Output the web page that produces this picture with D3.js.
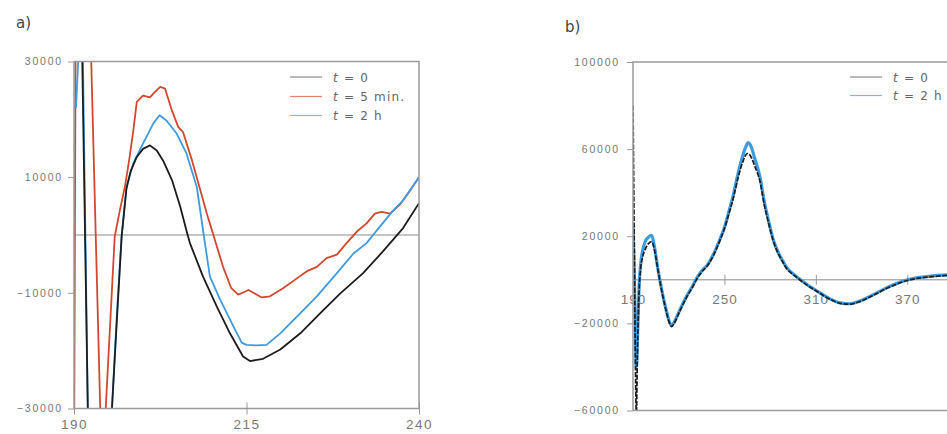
<!DOCTYPE html>
<html lang="en">

<head>
    <meta charset="UTF-8">
    <title>CD spectra a) b)</title>
    <script src="https://cdn.jsdelivr.net/npm/d3@7"></script>
    <style>
        body {
            margin: 0;
            background: #fff;
        }

        svg {
            display: block;
            font-family: "DejaVu Sans", sans-serif;
        }

        .line {
            fill: none;
            stroke-linejoin: round;
        }

        .tick text {
            fill: #777;
        }
    </style>
</head>

<body>
    <script>
        // ---- panel a) : t = 0, t = 5 min., t = 2 h  (nm, value)
        const aTicksX = [190, 215, 240]
        const aTicksY = [-30000, -10000, 10000, 30000]

        const aBlack = [
            [190.5, 45000], [191.2, 30000], [192.0, -30000], [192.5, -45000], [193.5, -50000],
            [195.0, -38000], [195.5, -30000], [196.2, -15000], [196.9, -300], [197.6, 8000],
            [198.2, 11000], [199.1, 13500], [200.0, 14900], [201.0, 15500], [202.0, 14600],
            [202.9, 12900], [204.2, 9500], [205.4, 4900], [206.4, 300], [206.8, -1400],
            [208.7, -7200], [210.7, -12400], [212.6, -17000], [214.5, -21000], [215.5, -21800],
            [217.4, -21400], [219.9, -19800], [222.8, -17000], [225.7, -13500], [228.6, -10100],
            [231.9, -6600], [234.8, -2800], [237.7, 1200], [240.0, 5500]
        ]

        const aRed = [
            [190.0, -45000], [190.25, 40000], [191.2, 60000], [192.5, 30000], [193.8, -30000],
            [194.2, -38000], [194.6, -30000], [195.3, -14000], [195.9, -300], [196.6, 4000],
            [197.4, 8500], [198.0, 13000], [198.6, 18100], [199.1, 23000], [200.0, 24100],
            [201.0, 23800], [201.7, 24700], [202.5, 25600], [203.2, 25300], [204.2, 21500],
            [205.1, 18700], [205.8, 17800], [207.1, 12900], [208.3, 7800], [209.3, 3500],
            [210.2, 0], [211.6, -5500], [212.8, -9200], [213.8, -10300], [214.6, -9900],
            [215.3, -9500], [216.2, -10100], [217.2, -10800], [218.4, -10600], [220.3, -9200],
            [222.3, -7500], [223.7, -6300], [225.2, -5500], [226.6, -4000], [228.1, -3400],
            [229.5, -1400], [231.0, 600], [232.4, 2000], [233.6, 3700], [234.6, 4000],
            [235.8, 3700], [237.2, 5200], [238.6, 7500], [240.0, 10000]
        ]

        const aBlue = [
            [190.3, 22000], [190.9, 38000], [191.3, 30000], [192.0, -30000], [192.6, -50000],
            [194.0, -50000], [195.5, -30000], [196.2, -14000], [196.9, -300], [197.6, 8300],
            [198.6, 12400], [200.0, 15800], [201.5, 19300], [202.4, 20700], [203.4, 19800],
            [204.9, 17500], [206.3, 14100], [207.8, 8300], [208.8, 0], [209.7, -7200],
            [211.2, -11200], [213.1, -15800], [214.3, -18600], [215.0, -19000], [216.5, -19100],
            [217.9, -19000], [219.9, -17000], [222.3, -14100], [225.2, -10600], [228.1, -6600],
            [230.5, -3200], [232.4, -1400], [234.3, 1400], [236.3, 4300], [237.7, 6000],
            [240.0, 10000]
        ]

        // ---- panel b) : t = 0, t = 2 h
        const bTicksX = [190, 250, 310, 370]
        const bTicksY = [-60000, -20000, 20000, 60000, 100000]

        const bBlack = [
            [190, 80000], [190.8, 20000], [191.6, -40000], [192.2, -62000], [193, -30000],
            [194, -5000], [195, 5000], [196.5, 11000], [198, 14000], [200, 16500],
            [202.3, 17500], [204, 14000], [206, 6000], [208, -2000], [210, -9000],
            [212, -15000], [214, -20000], [215.4, -21500], [217, -20000], [220, -15500],
            [223, -11000], [226, -7000], [229, -3500], [231.6, 0], [235, 3500],
            [239, 6600], [243, 11500], [247, 18000], [250, 23500], [253, 30500],
            [256, 38000], [259, 47000], [262, 54000], [265, 58000], [267, 57000],
            [270, 52000], [273.4, 45000], [276, 35000], [279, 26000], [282, 18000],
            [285, 12500], [288, 8500], [291, 5000], [295, 2500], [300, -300],
            [305, -2800], [310, -5000], [315, -7200], [320, -9200], [326, -10800],
            [332, -11200], [338, -10200], [343, -8700], [350, -6300], [356, -4100],
            [363, -2000], [370, -300], [376, 600], [383, 1200], [390, 1700],
            [396, 2000], [400, 2100]
        ]

        const bBlue = [
            [190, 25000], [190.8, 5000], [191.6, -25000], [192.2, -40000], [193, -26000],
            [194, -3000], [195, 7000], [196.5, 14000], [198, 17500], [200, 19500],
            [202.3, 20400], [204, 15500], [206, 6500], [208, -1500], [210, -8500],
            [212, -14500], [214, -19500], [215.4, -21000], [217, -19500], [220, -15000],
            [223, -10500], [226, -6500], [229, -3000], [231.6, 500], [235, 4000],
            [239, 7000], [243, 12000], [247, 18500], [250, 24000], [253, 31500],
            [256, 39500], [259, 49000], [262, 57000], [264, 61000], [265.6, 63000],
            [267, 62000], [270, 55500], [273.4, 47000], [276, 36500], [279, 27000],
            [282, 18500], [285, 13000], [288, 9000], [291, 5500], [295, 2800],
            [300, 0], [305, -2600], [310, -4800], [315, -7000], [320, -9000],
            [326, -10600], [332, -11000], [338, -10000], [343, -8500], [350, -6000],
            [356, -3800], [363, -1700], [370, 0], [376, 900], [383, 1500],
            [390, 2000], [396, 2300], [400, 2400]
        ]

        const width = 947
        const height = 434

        const svg = d3.select("body")
            .append("svg")
            .attr("width", width)
            .attr("height", height)

        const frameColor = "#9a9a9a"
        const black = "#1c1c1c"
        const red = "#d2472e"
        const blue = "#3f9be0"
        const fmt = d3.format("d")

        function legendRow(g, x, y, color, pre, post) {
            g.append("line")
                .attr("x1", x).attr("x2", x + 32)
                .attr("y1", y).attr("y2", y)
                .attr("stroke", color)
                .attr("stroke-width", 1.2)
            const t = g.append("text")
                .attr("x", x + 43).attr("y", y + 4.5)
                .style("font-size", "12px")
                .style("letter-spacing", "1.2px")
                .attr("fill", "#666")
            t.append("tspan").style("font-style", "italic").text(pre)
            t.append("tspan").text(post)
        }

        // ================= panel a =================
        const xa = d3.scaleLinear().domain([190, 240]).range([74, 419])
        const ya = d3.scaleLinear().domain([-30000, 30000]).range([408.5, 61.5])

        svg.append("text").attr("x", 16).attr("y", 28).text("a)")
            .style("font-size", "15px").attr("fill", "#444")

        svg.append("clipPath").attr("id", "clipA")
            .append("rect")
            .attr("x", xa(190)).attr("y", ya(30000))
            .attr("width", xa(240) - xa(190)).attr("height", ya(-30000) - ya(30000))

        // y axis a
        const axA = svg.append("g")
            .attr("transform", `translate(${xa(190)},0)`)
            .call(d3.axisLeft(ya).tickValues(aTicksY).tickFormat(fmt).tickSize(6).tickPadding(5))
        axA.select(".domain").remove()
        axA.selectAll("line").attr("stroke", frameColor)
        axA.selectAll("text").style("font-size", "10.5px").style("letter-spacing", "1.8px")

        // x axis a
        const axAx = svg.append("g")
            .attr("transform", `translate(0,${ya(-30000)})`)
            .call(d3.axisBottom(xa).tickValues(aTicksX).tickFormat(fmt).tickSize(6).tickPadding(5))
        axAx.select(".domain").remove()
        axAx.selectAll("line").attr("stroke", frameColor).attr("y1", -6)
        axAx.selectAll("text").style("font-size", "13.5px").style("letter-spacing", "1.5px")

        // zero line
        svg.append("line")
            .attr("x1", xa(190)).attr("x2", xa(240))
            .attr("y1", ya(0)).attr("y2", ya(0))
            .attr("stroke", "#8a8a8a").attr("stroke-width", 1)

        const lineA = d3.line().x(d => xa(d[0])).y(d => ya(d[1]))
        const plotA = svg.append("g").attr("clip-path", "url(#clipA)")
        plotA.append("path").datum(aRed).attr("class", "line").attr("d", lineA)
            .attr("stroke", red).attr("stroke-width", 1.8)
        plotA.append("path").datum(aBlue).attr("class", "line").attr("d", lineA)
            .attr("stroke", blue).attr("stroke-width", 1.8)
        plotA.append("path").datum(aBlack).attr("class", "line").attr("d", lineA)
            .attr("stroke", black).attr("stroke-width", 1.8)

        // frame a
        svg.append("rect")
            .attr("x", xa(190)).attr("y", ya(30000))
            .attr("width", xa(240) - xa(190)).attr("height", ya(-30000) - ya(30000))
            .attr("fill", "none").attr("stroke", frameColor).attr("stroke-width", 1.5)

        const legA = svg.append("g")
        legendRow(legA, 290, 77, "#8c8c8c", "t", " = 0")
        legendRow(legA, 290, 96.5, "#e0836f", "t", " = 5 min.")
        legendRow(legA, 290, 115.5, "#7db8e6", "t", " = 2 h")

        // ================= panel b =================
        const xb = d3.scaleLinear().domain([190, 400]).range([633, 953])
        const yb = d3.scaleLinear().domain([-60000, 100000]).range([410.5, 62])

        svg.append("text").attr("x", 565).attr("y", 32).text("b)")
            .style("font-size", "15px").attr("fill", "#444")

        svg.append("clipPath").attr("id", "clipB")
            .append("rect")
            .attr("x", xb(190)).attr("y", yb(100000))
            .attr("width", xb(400) - xb(190)).attr("height", yb(-60000) - yb(100000))

        const axB = svg.append("g")
            .attr("transform", `translate(${xb(190)},0)`)
            .call(d3.axisLeft(yb).tickValues(bTicksY).tickFormat(fmt).tickSize(6).tickPadding(7))
        axB.select(".domain").remove()
        axB.selectAll("line").attr("stroke", frameColor)
        axB.selectAll("text").style("font-size", "10.5px").style("letter-spacing", "1.8px")

        // zero line b
        svg.append("line")
            .attr("x1", xb(190)).attr("x2", xb(400))
            .attr("y1", yb(0)).attr("y2", yb(0))
            .attr("stroke", "#8a8a8a").attr("stroke-width", 1)

        // x axis b sits on the zero line
        const axBx = svg.append("g")
            .attr("transform", `translate(0,${yb(0)})`)
            .call(d3.axisBottom(xb).tickValues(bTicksX).tickFormat(fmt).tickSize(5).tickPadding(10))
        axBx.select(".domain").remove()
        axBx.selectAll("line").attr("stroke", frameColor).attr("y1", -5)
        axBx.selectAll("text").style("font-size", "13.5px").style("letter-spacing", "1px")

        const lineB = d3.line().x(d => xb(d[0])).y(d => yb(d[1])).curve(d3.curveMonotoneX)
        const plotB = svg.append("g").attr("clip-path", "url(#clipB)")
        plotB.append("path").datum(bBlue).attr("class", "line").attr("d", lineB)
            .attr("stroke", blue).attr("stroke-width", 3.2)
        plotB.append("path").datum(bBlack).attr("class", "line").attr("d", lineB)
            .attr("stroke", black).attr("stroke-width", 1.7)
            .attr("stroke-dasharray", "5,1.5")

        // frame b (right side runs off the page)
        svg.append("rect")
            .attr("x", xb(190)).attr("y", yb(100000))
            .attr("width", xb(400) - xb(190)).attr("height", yb(-60000) - yb(100000))
            .attr("fill", "none").attr("stroke", frameColor).attr("stroke-width", 1.5)

        const legB = svg.append("g")
        legendRow(legB, 850, 77, "#8c8c8c", "t", " = 0")
        legendRow(legB, 850, 95.5, "#7db8e6", "t", " = 2 h")
    </script>
</body>

</html>
